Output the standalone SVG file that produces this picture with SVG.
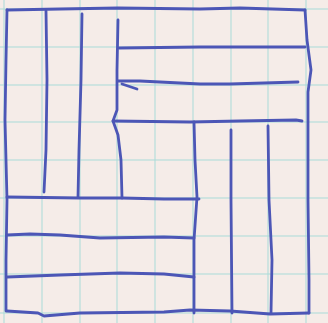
<svg xmlns="http://www.w3.org/2000/svg" width="328" height="323" viewBox="0 0 328 323">
<style>
.grid{stroke:#a9dbd8;stroke-width:1;fill:none}
.pen{stroke:#4c56b6;stroke-width:2.8;fill:none;stroke-linecap:round;stroke-linejoin:round}
</style>
<rect x="0" y="0" width="328" height="323" fill="#f5ece8"/>
<g id="grid" class="grid">
<path d="M4,0V323M42,0V323M80,0V323M117,0V323M155,0V323M193,0V323M231,0V323M268,0V323M306,0V323"/>
<path d="M0,9H328M0,47H328M0,85H328M0,122H328M0,160H328M0,198H328M0,236H328M0,274H328M0,313H328"/>
</g>
<g id="drawing" class="pen">
<path id="border-top" d="M7,10 L60,9 L118,8 L200,9 L240,8 L305,10"/>
<path id="border-right" d="M305,10 L307,40 L311,70 L308,92 L308,200 L309,280 L309,313"/>
<path id="border-bottom" d="M7,311 L38,313 L44,316 L80,313 L164,312 L190,310 L230,311 L270,314 L309,313"/>
<path id="border-left" d="M7,10 L6,60 L5,120 L7,200 L6,260 L6,311"/>
<path d="M46,11 L47,80 L46,150 L44,192"/>
<path d="M82,14 L81,80 L79,150 L78,197"/>
<path d="M118,20 L117,70 L117,110 L113,121 L118,135 L121,160 L122,198"/>
<path d="M7,197 L80,198 L122,198 L164,199 L199,199"/>
<path d="M119,48 L200,47 L250,47 L305,47"/>
<path d="M118,81 L140,81 L200,84 L230,84 L298,82"/>
<path d="M122,84 L137,89"/>
<path d="M113,121 L190,122 L240,121 L296,120 L302,121"/>
<path d="M194,122 L195,160 L197,197 L194,240 L194,313"/>
<path d="M231,130 L231,200 L232,313"/>
<path d="M268,126 L269,200 L272,260 L271,313"/>
<path d="M7,235 L30,234 L60,235 L100,238 L164,237 L194,238"/>
<path d="M7,277 L60,275 L120,273 L164,274 L194,277"/>
</g>
</svg>
